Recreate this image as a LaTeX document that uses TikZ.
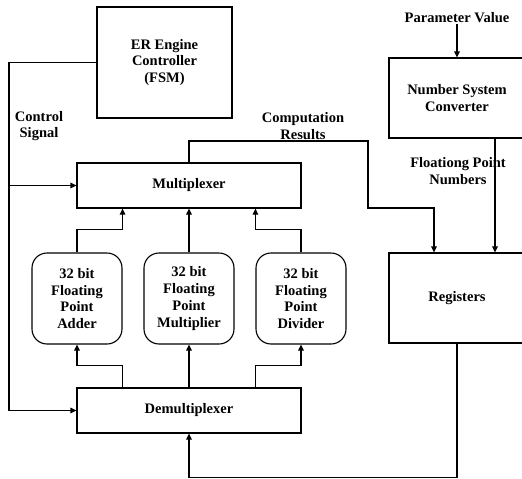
\documentclass[tikz,border=0pt]{standalone}
\usepackage{fontspec}
\setmainfont{Liberation Serif}
\usepackage{tikz}
\usetikzlibrary{arrows.meta, positioning, calc}

\begin{document}
\begin{tikzpicture}[
    x=1pt, y=-1pt,
    >={Triangle[length=6pt, width=5.5pt]},
    line width=1.1pt,
    every node/.style={font=\fontsize{14.5}{16.7}\selectfont\bfseries, align=center},
    block/.style={draw, line width=1.1pt, inner sep=0pt},
    alu/.style={block, rounded corners=15pt, minimum width=90pt, minimum height=91pt},
    lbl/.style={inner sep=0pt}
]
\useasboundingbox (0,0) rectangle (522,479);

% blocks
\node[block, minimum width=135pt, minimum height=111pt] (ctrl) at (164.5,62.5) {ER Engine\\Controller\\(FSM)};
\node[block, minimum width=224pt, minimum height=45pt] (mux) at (189,185.5) {Multiplexer};
\node[block, minimum width=224pt, minimum height=45pt] (demux) at (189,410.5) {Demultiplexer};

\node[alu] (adder) at (77,298.5) {32 bit\\Floating\\Point\\Adder};
\node[alu] (mult) at (189,298.5) {32 bit\\Floating\\Point\\Multiplier};
\node[alu] (div) at (301,298.5) {32 bit\\Floating\\Point\\Divider};

\node[block, minimum width=136pt, minimum height=80pt] (nsc) at (457,98) {Number System\\Converter};
\node[block, minimum width=136pt, minimum height=90pt] (regs) at (457,298) {Registers};

% labels
\node[lbl] (param) at (457,18) {Parameter Value};
\node[lbl] (ctrllbl) at (39,126) {Control\\Signal};
\node[lbl] (reslbl) at (303,126) {Computation\\Results};
\node[lbl] (fplbl) at (458,171) {Floationg Point\\Numbers};

% control signal
\coordinate (cleft) at (9,62.5);
\draw (ctrl.west) -- (cleft) -- (cleft |- demux.west);
\draw[->] (cleft |- mux.west) -- (mux.west);
\draw[->] (cleft |- demux.west) -- (demux.west);

% units to multiplexer
\draw[->] (adder.north) -- ++(0,-23) -| (mux.south -| adder.east);
\draw[->] (mult.north) -- (mult.north |- mux.south);
\draw[->] (div.north) -- ++(0,-23) -| (mux.south -| div.west);

% demultiplexer to units
\draw[->] (demux.north -| adder.east) -- ++(0,-22) -| (adder.south);
\draw[->] (demux.north -| mult.south) -- (mult.south);
\draw[->] (demux.north -| div.west) -- ++(0,-22) -| (div.south);

% results to registers
\coordinate (r1) at (368,141);
\coordinate (r2) at (368,208);
\draw[->] (mux.north) |- (r1) -- (r2) -| ([xshift=-23pt]regs.north);

% converter
\draw[->] (param.south) -- (nsc.north);
\draw[->] ([xshift=38pt]nsc.south) -- ([xshift=38pt]regs.north);

% registers back to demultiplexer
\draw[->] (regs.south) -- ++(0,134) -| (demux.south);

\end{tikzpicture}
\end{document}
